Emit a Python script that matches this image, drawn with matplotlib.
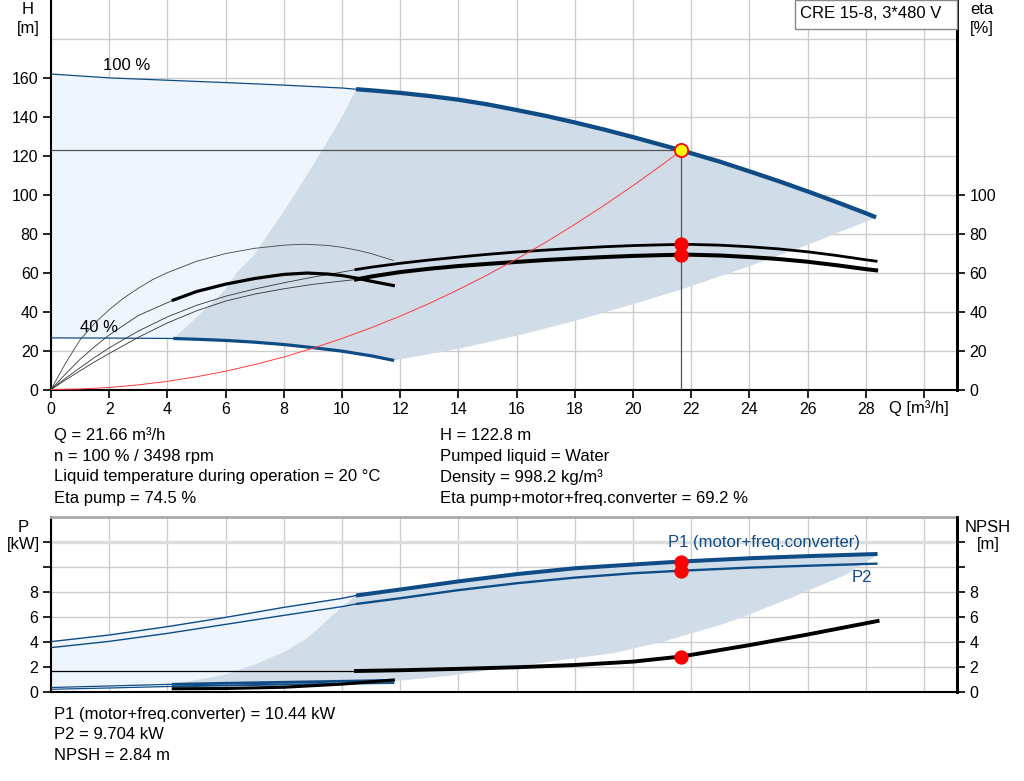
import matplotlib
matplotlib.use('Agg')
import matplotlib.pyplot as plt
from matplotlib.patches import Polygon, Rectangle

plt.rcParams['font.family'] = ['Liberation Sans', 'DejaVu Sans']
plt.rcParams['font.size'] = 12

# ---- data ----
# head curves (100 % and 40 % speed)
q_h100 = [0, 2, 4, 6, 8, 10, 10.48, 11, 12, 13, 14, 15, 16, 17, 18, 19, 20, 21, 21.66,
          22, 23, 24, 25, 26, 27, 28, 28.35]
h_100 = [162, 160, 158.8, 157.6, 156.3, 154.8, 154.2, 153.6, 152.3, 150.7, 148.8, 146.4, 143.5,
         140.5, 137.1, 133.5, 129.6, 125.5, 122.8, 121.3, 116.9, 112.0, 107.0, 101.7, 96.2, 90.5, 88.4]
q_h40 = [0, 2, 4.2, 5, 6, 7, 8, 9, 10, 11, 11.79]
h_40 = [26.5, 26.4, 26.2, 25.8, 25.2, 24.3, 23.1, 21.5, 19.7, 17.3, 14.9]

# recommended range borders
q_left = [4.2, 5, 6, 6.38, 7, 7.56, 8, 9, 10, 10.48]
h_left = [26.2, 37, 51.5, 60, 69.5, 82, 91.5, 115, 140, 154.2]
q_low = [11.79, 12, 14, 16, 18, 20, 21.66, 22, 24, 26, 28, 28.35]
h_low = [14.9, 15.5, 20.9, 27.6, 35.2, 43.8, 51.4, 53.1, 63.3, 74.3, 86.2, 88.4]

# efficiency curves
q_eta_thin = [0, 0.5, 1, 1.5, 2, 3, 4, 5, 6, 7, 8, 9, 10, 10.48]
eta_pump_thin = [0, 5.8, 11.2, 16.5, 21.4, 30, 37.3, 43.2, 47.9, 51.6, 54.8, 57.7, 60.3, 61.6]
eta_tot_thin = [0, 4.9, 9.6, 14.2, 18.5, 26.8, 34.2, 40.4, 45.4, 49, 51.7, 54, 55.7, 56.5]
q_eta = [10.48, 11, 12, 13, 14, 15, 16, 17, 18, 19, 20, 21, 21.66, 22, 23, 24, 25, 26, 27, 28, 28.35]
eta_pump = [61.6, 62.8, 64.8, 66.5, 68.0, 69.4, 70.6, 71.6, 72.5, 73.3, 73.9, 74.3, 74.5, 74.5,
            74.1, 73.3, 72.2, 70.7, 68.8, 66.6, 65.9]
eta_tot = [56.5, 58.0, 60.3, 62.0, 63.4, 64.5, 65.5, 66.5, 67.3, 68.0, 68.6, 69.0, 69.2, 69.2,
           68.8, 68.0, 67.0, 65.6, 63.8, 61.8, 61.2]

q_eta40 = [0, 0.5, 1, 1.5, 2, 2.5, 3, 3.5, 4, 5, 6, 7, 8, 8.7, 9.5, 10, 10.5, 11, 11.76]
eta_pump40 = [0, 13.5, 25.5, 34, 41, 47, 52, 56.5, 60, 65.8, 69.8, 72.5, 74.1, 74.6, 74.0,
              73.0, 71.6, 69.8, 66.3]
q_tot40_thin = [0, 0.5, 1, 1.5, 2, 3, 4.2]
eta_tot40_thin = [0, 8, 15.5, 22, 28, 38, 45.9]
q_tot40 = [4.2, 5, 6, 7, 8, 8.8, 9.5, 10, 10.5, 11, 11.76]
eta_tot40 = [45.9, 50.3, 54.1, 57.0, 59.1, 59.8, 59.3, 58.5, 57.2, 55.6, 53.4]

# system curve
q_sys = [0, 1, 2, 3, 4, 5, 6, 7, 8, 9, 10, 11, 12, 13, 14, 15, 16, 17, 18, 19, 20, 21, 21.66]
h_sys = [0, 0.26, 1.05, 2.36, 4.2, 6.54, 9.4, 12.8, 16.7, 21.2, 26.2, 31.7, 37.7, 44.2, 51.3,
         58.9, 67, 75.6, 84.8, 94.5, 104.7, 115.4, 122.8]

# duty point
q_duty = 21.66
h_duty = 122.8
eta_pump_duty = 74.5
eta_tot_duty = 69.2

# power and NPSH
q_p = [0, 2, 4, 6, 8, 10, 10.48, 12, 14, 16, 18, 20, 21.66, 24, 26, 28.4]
p1 = [4.03, 4.56, 5.23, 5.97, 6.77, 7.49, 7.72, 8.2, 8.85, 9.43, 9.9, 10.2, 10.44, 10.7, 10.87, 11.04]
p2 = [3.55, 4.05, 4.69, 5.41, 6.13, 6.83, 7.04, 7.5, 8.15, 8.7, 9.15, 9.5, 9.704, 9.95, 10.1, 10.27]
q_p40 = [0, 2, 4.2, 6, 8, 10, 11.76]
p1_40 = [0.36, 0.48, 0.62, 0.7, 0.78, 0.86, 0.93]
p2_40 = [0.22, 0.32, 0.45, 0.52, 0.6, 0.66, 0.72]
q_npsh = [10.48, 12, 14, 16, 18, 20, 21.66, 24, 26, 28.4]
npsh = [1.68, 1.74, 1.85, 1.98, 2.16, 2.43, 2.84, 3.75, 4.6, 5.68]
npsh_low = 1.68
q_npsh40 = [4.2, 6, 8, 10, 11.76]
npsh40 = [0.26, 0.28, 0.38, 0.63, 0.96]
p1_duty = 10.44
p2_duty = 9.704
npsh_duty = 2.84

q_pleft = [4.2, 6, 7, 8, 8.8, 9.5, 10, 10.48]
p_left = [0.62, 1.4, 2.2, 3.2, 4.3, 5.76, 6.83, 7.72]
q_plow = [11.76, 13.7, 15.84, 17.5, 19.28, 21, 23.17, 23.86, 25.5, 27.3, 28.4]
p_low = [0.85, 1.3, 2.0, 2.55, 3.09, 4.0, 5.49, 6.08, 7.6, 9.36, 10.96]

info_left = ['Q = 21.66 m³/h', 'n = 100 % / 3498 rpm',
             'Liquid temperature during operation = 20 °C', 'Eta pump = 74.5 %']
info_right = ['H = 122.8 m', 'Pumped liquid = Water', 'Density = 998.2 kg/m³',
              'Eta pump+motor+freq.converter = 69.2 %']
info_power = ['P1 (motor+freq.converter) = 10.44 kW', 'P2 = 9.704 kW', 'NPSH = 2.84 m']

BLUE = '#0f4c86'
LIGHT = '#eef5fd'
DARK = '#d0dce8'
GRID = '#cccccc'
TICKFS = 11.5

fig = plt.figure(figsize=(10.24, 7.81), dpi=100)
W, Hf = 1024, 781


def box(x0, y0, x1, y1):
    return [x0 / W, 1 - y1 / Hf, (x1 - x0) / W, (y1 - y0) / Hf]


# ================= top chart =================
ax = fig.add_axes(box(51, 0, 957, 389.5))
ax.set_xlim(0, 31.13)
ax.set_ylim(0, 200)
for v in range(0, 31, 2):
    ax.axvline(v, color=GRID, lw=1, zorder=0)
for v in range(20, 181, 20):
    ax.axhline(v, color=GRID, lw=1, zorder=0)

# light (allowed) area
light = list(zip(q_h100[:7], h_100[:7])) + list(zip(q_left[::-1], h_left[::-1])) + \
    list(zip(q_h40[:3][::-1], h_40[:3][::-1]))
ax.add_patch(Polygon(light, closed=True, fc=LIGHT, ec='none', zorder=1))
# recommended area
dark = list(zip(q_h100[6:], h_100[6:])) + list(zip(q_low[::-1], h_low[::-1])) + \
    list(zip(q_h40[2:][::-1], h_40[2:][::-1])) + list(zip(q_left, h_left))
ax.add_patch(Polygon(dark, closed=True, fc=DARK, ec='none', zorder=1))

# head curves
ax.plot(q_h100[:7], h_100[:7], color=BLUE, lw=0.9, zorder=3)
ax.plot(q_h100[6:], h_100[6:], color=BLUE, lw=3.1, zorder=3, solid_capstyle='butt')
ax.plot(q_h40[:3], h_40[:3], color=BLUE, lw=0.9, zorder=3)
ax.plot(q_h40[2:], h_40[2:], color=BLUE, lw=2.3, zorder=3, solid_capstyle='butt')

# efficiency curves
ax.plot(q_eta_thin, eta_pump_thin, color='#333333', lw=0.6, zorder=3)
ax.plot(q_eta_thin, eta_tot_thin, color='#333333', lw=0.6, zorder=3)
ax.plot(q_eta, eta_pump, color='black', lw=2.0, zorder=3)
ax.plot(q_eta, eta_tot, color='black', lw=2.9, zorder=3)
ax.plot(q_eta40, eta_pump40, color='#444444', lw=0.6, zorder=3)
ax.plot(q_tot40_thin, eta_tot40_thin, color='#333333', lw=0.6, zorder=3)
ax.plot(q_tot40, eta_tot40, color='black', lw=2.3, zorder=3)

# system curve and duty point
ax.plot(q_sys, h_sys, color='#ff3b3b', lw=0.7, zorder=4)
ax.plot([0, q_duty], [h_duty, h_duty], color='#555555', lw=0.9, zorder=4)
ax.plot([q_duty, q_duty], [0, h_duty], color='#555555', lw=0.9, zorder=4)
ax.plot([q_duty], [h_duty], 'o', ms=9.5, mfc='#ffff00', mec='#ff0000', mew=1.3, zorder=6)
ax.plot([q_duty, q_duty], [eta_pump_duty, eta_tot_duty], 'o', ms=9.3, color='#ff0000', zorder=6)

ax.text(2.6, 166.5, '100 %', ha='center', va='center', zorder=5)
ax.text(1.65, 32, '40 %', ha='center', va='center', zorder=5)

ax.set_xticks(range(0, 31, 2))
ax.set_xticklabels([str(v) for v in range(0, 29, 2)] + [''])
ax.set_yticks(range(0, 161, 20))
ax.tick_params(direction='out', length=6, width=1.2, colors='black', pad=3, labelsize=TICKFS)
ax.spines['top'].set_visible(False)
ax.spines['left'].set_linewidth(1.5)
ax.spines['bottom'].set_linewidth(1.5)
ax.spines['right'].set_linewidth(2)

axr = ax.twinx()
axr.set_ylim(0, 200)
axr.set_yticks(range(0, 101, 20))
axr.tick_params(direction='out', length=6, width=1.2, pad=3, labelsize=TICKFS)
for s in ['top', 'left', 'bottom']:
    axr.spines[s].set_visible(False)
axr.spines['right'].set_linewidth(2)

fig.text(28 / W, 1 - 10 / Hf, 'H', ha='center', va='center')
fig.text(28 / W, 1 - 28 / Hf, '[m]', ha='center', va='center')
fig.text(982 / W, 1 - 10 / Hf, 'eta', ha='center', va='center')
fig.text(982 / W, 1 - 28 / Hf, '[%]', ha='center', va='center')
fig.text(919 / W, 1 - 408 / Hf, 'Q [m³/h]', ha='center', va='center')

fig.patches.append(Rectangle((795 / W, 1 - 29 / Hf), 162 / W, 29 / Hf, transform=fig.transFigure,
                             fc='white', ec='#888888', lw=1, zorder=10))
fig.text(871 / W, 1 - 14 / Hf, 'CRE 15-8, 3*480 V', ha='center', va='center', zorder=11)

for i, s in enumerate(info_left):
    fig.text(54 / W, 1 - (435 + 21 * i) / Hf, s, ha='left', va='center')
for i, s in enumerate(info_right):
    fig.text(440 / W, 1 - (435 + 21 * i) / Hf, s, ha='left', va='center')

# ================= bottom chart =================
bx = fig.add_axes(box(51, 517, 957, 692))
bx.set_xlim(0, 31.13)
bx.set_ylim(0, 14)
for v in range(0, 31, 2):
    bx.axvline(v, color=GRID, lw=1, zorder=0)
for v in range(2, 11, 2):
    bx.axhline(v, color=GRID, lw=1, zorder=0)
bx.axhline(12, color='#dddddd', lw=2.5, zorder=0)

plight = list(zip(q_p[:7], p1[:7])) + list(zip(q_pleft[::-1], p_left[::-1])) + \
    list(zip(q_p40[:3][::-1], p1_40[:3][::-1]))
bx.add_patch(Polygon(plight, closed=True, fc=LIGHT, ec='none', zorder=1))
pdark = list(zip(q_p[6:], p1[6:])) + list(zip(q_plow[::-1], p_low[::-1])) + \
    list(zip(q_p40[2:][::-1], p1_40[2:][::-1])) + list(zip(q_pleft, p_left))
bx.add_patch(Polygon(pdark, closed=True, fc=DARK, ec='none', zorder=1))

bx.plot(q_p[:7], p1[:7], color=BLUE, lw=1.0, zorder=3)
bx.plot(q_p[6:], p1[6:], color=BLUE, lw=2.9, zorder=3, solid_capstyle='butt')
bx.plot(q_p[:7], p2[:7], color=BLUE, lw=1.0, zorder=3)
bx.plot(q_p[6:], p2[6:], color=BLUE, lw=1.7, zorder=3, solid_capstyle='butt')
bx.plot(q_p40[:3], p1_40[:3], color=BLUE, lw=0.9, zorder=3)
bx.plot(q_p40[2:], p1_40[2:], color=BLUE, lw=2.0, zorder=3)
bx.plot(q_p40[:3], p2_40[:3], color=BLUE, lw=0.9, zorder=3)
bx.plot(q_p40[2:], p2_40[2:], color=BLUE, lw=1.4, zorder=3)
bx.plot([0, q_npsh[0]], [npsh_low, npsh_low], color='black', lw=0.9, zorder=3)
bx.plot(q_npsh, npsh, color='black', lw=2.8, zorder=3)
bx.plot(q_npsh40, npsh40, color='black', lw=2.2, zorder=3)

bx.plot([q_duty, q_duty, q_duty], [p1_duty, p2_duty, npsh_duty], 'o', ms=9.3, color='#ff0000', zorder=6)
bx.text(q_duty - 0.45, 12.0, 'P1 (motor+freq.converter)', color=BLUE, ha='left', va='center')
bx.text(27.5, 9.2, 'P2', color=BLUE, ha='left', va='center')

bx.set_xticks([])
bx.set_yticks(range(0, 13, 2))
bx.set_yticklabels(['0', '2', '4', '6', '8', '', ''])
bx.tick_params(direction='out', length=6, width=1.2, pad=3, labelsize=TICKFS)
bx.spines['top'].set_color('#aaaaaa')
bx.spines['top'].set_linewidth(2)
bx.spines['left'].set_linewidth(1.5)
bx.spines['bottom'].set_linewidth(1.5)
bx.spines['right'].set_linewidth(2)

bxr = bx.twinx()
bxr.set_ylim(0, 14)
bxr.set_yticks(range(0, 13, 2))
bxr.set_yticklabels(['0', '2', '4', '6', '8', '', ''])
bxr.tick_params(direction='out', length=6, width=1.2, pad=3, labelsize=TICKFS)
for s in ['top', 'left', 'bottom']:
    bxr.spines[s].set_visible(False)
bxr.spines['right'].set_linewidth(2)

fig.text(23 / W, 1 - 527 / Hf, 'P', ha='center', va='center')
fig.text(23 / W, 1 - 545 / Hf, '[kW]', ha='center', va='center')
fig.text(988 / W, 1 - 527 / Hf, 'NPSH', ha='center', va='center')
fig.text(988 / W, 1 - 545 / Hf, '[m]', ha='center', va='center')

for i, s in enumerate(info_power):
    fig.text(54 / W, 1 - (714 + 20.7 * i) / Hf, s, ha='left', va='center')

fig.savefig('out.png', dpi=100)
